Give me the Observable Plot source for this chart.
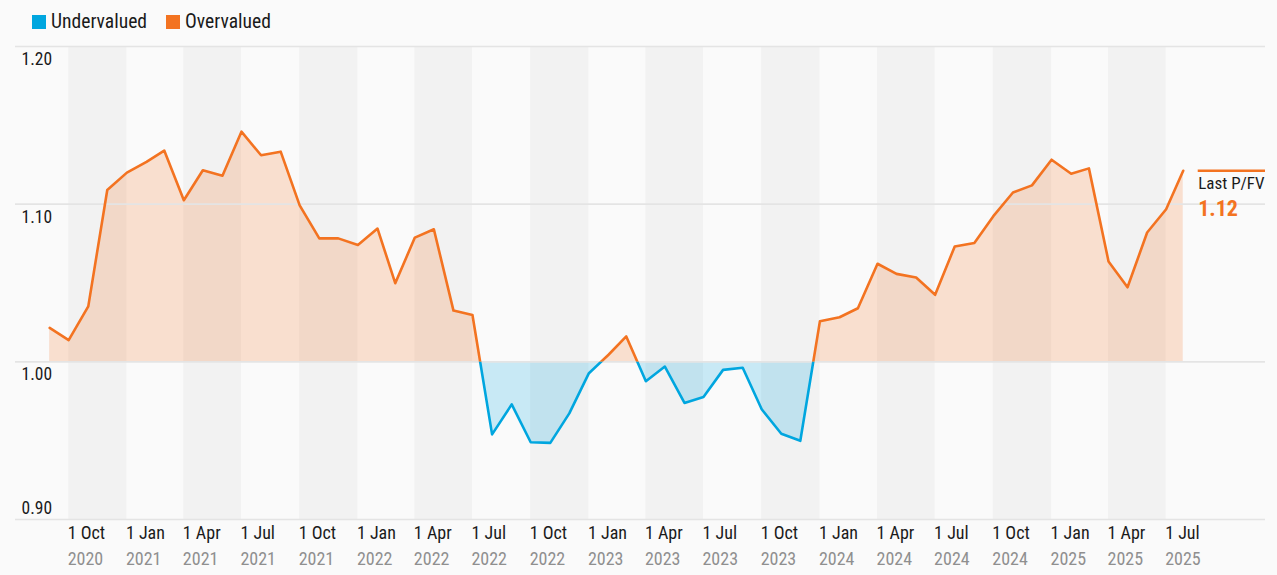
<!DOCTYPE html>
<html><head><meta charset="utf-8">
<script src="https://cdn.jsdelivr.net/npm/d3@7"></script>
<script src="https://cdn.jsdelivr.net/npm/@observablehq/plot@0.6"></script>
<style>
html,body{margin:0;padding:0;background:#fafafa;}
body{width:1277px;height:575px;position:relative;overflow:hidden;font-family:"Liberation Sans Narrow","Roboto Condensed","DejaVu Sans Condensed",sans-serif;color:#1a1a1a;}
#legend{position:absolute;left:32px;top:10px;display:flex;align-items:center;font-size:19.6px;line-height:24px;z-index:2;}
#legend .sw{display:inline-block;width:14px;height:14px;margin-right:5px;}
#legend .item{display:flex;align-items:center;margin-right:19px;}
#chart{position:absolute;left:0;top:0;}
</style>
</head><body>
<div id="legend"></div>
<div id="chart"></div>
<script>
// ---- data ----
const dates = [
 "2020-09-01","2020-10-01","2020-11-01","2020-12-01",
 "2021-01-01","2021-02-01","2021-03-01","2021-04-01","2021-05-01","2021-06-01",
 "2021-07-01","2021-08-01","2021-09-01","2021-10-01","2021-11-01","2021-12-01",
 "2022-01-01","2022-02-01","2022-03-01","2022-04-01","2022-05-01","2022-06-01",
 "2022-07-01","2022-08-01","2022-09-01","2022-10-01","2022-11-01","2022-12-01",
 "2023-01-01","2023-02-01","2023-03-01","2023-04-01","2023-05-01","2023-06-01",
 "2023-07-01","2023-08-01","2023-09-01","2023-10-01","2023-11-01","2023-12-01",
 "2024-01-01","2024-02-01","2024-03-01","2024-04-01","2024-05-01","2024-06-01",
 "2024-07-01","2024-08-01","2024-09-01","2024-10-01","2024-11-01","2024-12-01",
 "2025-01-01","2025-02-01","2025-03-01","2025-04-01","2025-05-01","2025-06-01",
 "2025-07-01","2025-07-28"
];
const pfv = [
 1.0215,1.0138,1.0352,1.109,
 1.120,1.1268,1.134,1.1025,1.1215,1.118,
 1.146,1.131,1.1333,1.0992,1.0783,1.0783,
 1.0741,1.0845,1.0499,1.0788,1.0841,1.0325,
 1.0297,0.954,0.973,0.949,0.9486,0.9673,
 0.9928,1.0045,1.0161,0.9877,0.997,0.9739,
 0.9777,0.9949,0.9962,0.9699,0.9544,0.9499,
 1.0258,1.0283,1.034,1.0622,1.0558,1.0535,
 1.0425,1.0732,1.0754,1.0924,1.1074,1.1119,
 1.1282,1.1193,1.1227,1.0637,1.0473,1.082,
 1.0968,1.1212
];
const tickDates = [
 "2020-10-01","2021-01-01","2021-04-01","2021-07-01","2021-10-01",
 "2022-01-01","2022-04-01","2022-07-01","2022-10-01",
 "2023-01-01","2023-04-01","2023-07-01","2023-10-01",
 "2024-01-01","2024-04-01","2024-07-01","2024-10-01",
 "2025-01-01","2025-04-01","2025-07-01"
];
const yTicks = [0.90, 1.00, 1.10, 1.20];
const seriesNames = ["Undervalued","Overvalued"];
const seriesColors = ["#00a6df","#f37321"];
const fairValue = 1.00;
const xDomain = ["2020-07-09","2025-12-05"];
const yDomain = [0.90, 1.20];

// ---- build ----
const parse = d3.utcParse("%Y-%m-%d");
const data = dates.map((d,i)=>({date: parse(d), v: pfv[i]}));
const ticks = tickDates.map(parse);
const bands = [];
for (let i = 0; i + 1 < ticks.length; i += 2) bands.push({x1: ticks[i], x2: ticks[i+1]});
const last = data[data.length-1];
const blue = seriesColors[0], orange = seriesColors[1];

const legend = document.getElementById("legend");
seriesNames.forEach((n,i)=>{
  const it = document.createElement("span"); it.className="item";
  it.innerHTML = `<span class="sw" style="background:${seriesColors[i]}"></span><span>${n}</span>`;
  legend.appendChild(it);
});

const W = 1277, H = 575;
const chart = Plot.plot({
  width: W, height: H,
  marginTop: 46, marginBottom: 56, marginLeft: 15, marginRight: 12,
  style: {background: "#fafafa", fontFamily: '"Liberation Sans Narrow","Roboto Condensed",sans-serif', fontSize: "18px", color: "#1a1a1a", overflow: "visible"},
  x: {type: "utc", domain: xDomain.map(parse), axis: null},
  y: {domain: yDomain, axis: null},
  marks: [
    Plot.rect(bands, {x1: "x1", x2: "x2", fill: "#f2f2f2"}),
    Plot.areaY(data, {x: "date", y1: fairValue, y2: "v", fill: orange, fillOpacity: 0.2}),
    Plot.areaY(data, {x: "date", y1: fairValue, y2: "v", fill: blue, fillOpacity: 0.2}),
    Plot.ruleY(yTicks, {stroke: "#e4e4e4", strokeWidth: 1.6}),
    Plot.line(data, {x: "date", y: "v", stroke: orange, strokeWidth: 2.6}),
    Plot.line(data, {x: "date", y: "v", stroke: blue, strokeWidth: 2.6}),
    Plot.text(yTicks.filter(t => t > yDomain[0]), {y: d => d, frameAnchor: "left", lineAnchor: "middle", textAnchor: "start", dx: 6, dy: 13, text: d => d.toFixed(2), fontSize: 17.5}),
    Plot.text(yTicks.filter(t => t === yDomain[0]), {y: d => d, frameAnchor: "left", lineAnchor: "middle", textAnchor: "start", dx: 6, dy: -11, text: d => d.toFixed(2), fontSize: 17.5}),
    Plot.text(ticks, {x: d => d, frameAnchor: "bottom", lineAnchor: "middle", textAnchor: "start", dx: -1, dy: 14, text: d3.utcFormat("%-d %b"), fontSize: 18}),
    Plot.text(ticks, {x: d => d, frameAnchor: "bottom", lineAnchor: "middle", textAnchor: "start", dx: -1, dy: 40, text: d3.utcFormat("%Y"), fontSize: 18, fill: "#8f8f8f"}),
    Plot.ruleY([last], {x1: "date", x2: () => parse(xDomain[1]), y: "v", insetLeft: 15, stroke: orange, strokeWidth: 2.6}),
    Plot.text([last], {x: "date", y: "v", dx: 15, dy: 13, textAnchor: "start", text: () => "Last P/FV", fontSize: 17}),
    Plot.text([last], {x: "date", y: "v", dx: 15, dy: 38, textAnchor: "start", text: d => d.v.toFixed(2), fontSize: 22, fontWeight: "bold", fill: orange})
  ]
});
document.getElementById("chart").appendChild(chart);

// clip series colours at fair value
const y0 = chart.scale("y").apply(fairValue);
const svg = d3.select(chart);
const defs = svg.append("defs");
defs.append("clipPath").attr("id","clip-over").attr("clipPathUnits","userSpaceOnUse")
  .append("rect").attr("x",-10).attr("y",-10).attr("width",W+20).attr("height",y0+10);
defs.append("clipPath").attr("id","clip-under").attr("clipPathUnits","userSpaceOnUse")
  .append("rect").attr("x",-10).attr("y",y0).attr("width",W+20).attr("height",H-y0+10);
const areas = chart.querySelectorAll('g[aria-label="area"]');
const lines = chart.querySelectorAll('g[aria-label="line"]');
if (areas.length === 2) { areas[0].setAttribute("clip-path","url(#clip-over)"); areas[1].setAttribute("clip-path","url(#clip-under)"); }
if (lines.length === 2) { lines[0].setAttribute("clip-path","url(#clip-over)"); lines[1].setAttribute("clip-path","url(#clip-under)"); }
</script>
</body></html>
